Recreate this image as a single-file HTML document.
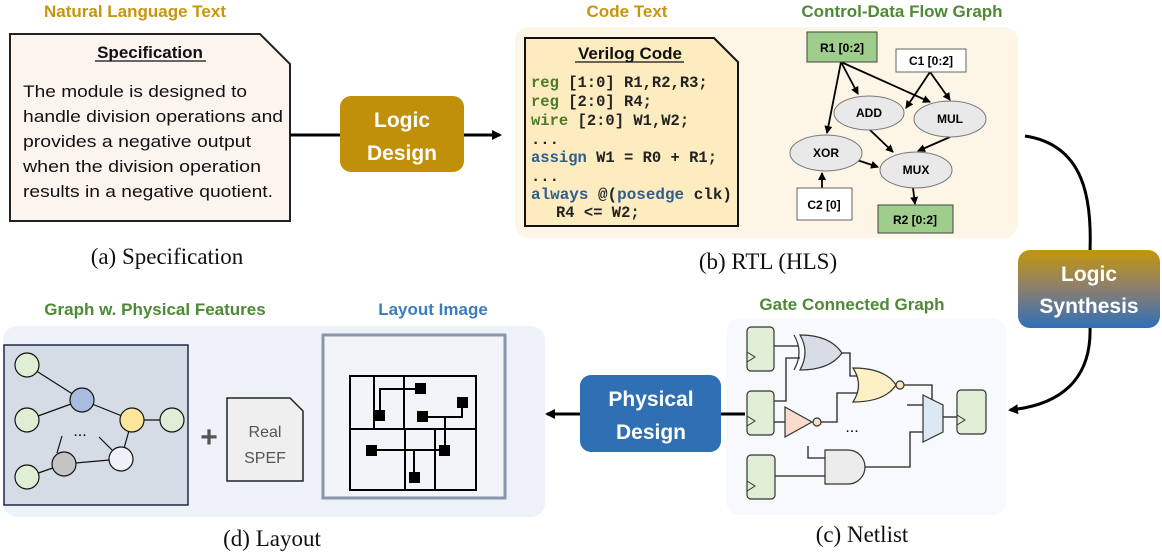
<!DOCTYPE html>
<html><head><meta charset="utf-8"><style>
html,body{margin:0;padding:0;background:#fff}
svg{display:block}
.h{font-family:"Liberation Sans",sans-serif;font-weight:bold;font-size:17px;text-anchor:middle}
.cap{font-family:"Liberation Serif",serif;font-size:23px;text-anchor:middle;fill:#111}
.mono{font-family:"Liberation Mono",monospace;font-weight:bold;font-size:15.5px}
.nd{font-family:"Liberation Sans",sans-serif;font-weight:bold;font-size:12px;text-anchor:middle}
.btn{font-family:"Liberation Sans",sans-serif;font-weight:bold;font-size:21px;fill:#fff;text-anchor:middle}
</style></head><body>
<svg width="1162" height="556" viewBox="0 0 1162 556" xmlns="http://www.w3.org/2000/svg">
<defs>
<marker id="ar" markerWidth="10" markerHeight="10" refX="8" refY="5" orient="auto" markerUnits="userSpaceOnUse"><path d="M0,0 L10,5 L0,10 z" fill="#000"/></marker>
<marker id="as" markerWidth="8" markerHeight="8" refX="7" refY="4" orient="auto" markerUnits="userSpaceOnUse"><path d="M0,0 L8,4 L0,8 z" fill="#000"/></marker>
<linearGradient id="gs" x1="0" y1="0" x2="0" y2="1"><stop offset="0" stop-color="#c4960c"/><stop offset="0.5" stop-color="#8a7f70"/><stop offset="1" stop-color="#2f6fb8"/></linearGradient>
</defs>

<!-- headings -->
<text class="h" x="135" y="17" fill="#c8960c">Natural Language Text</text>
<text class="h" x="627" y="17" fill="#c8960c">Code Text</text>
<text class="h" x="902" y="17" fill="#4e8a35">Control-Data Flow Graph</text>
<text class="h" x="852" y="310" fill="#4e8a35">Gate Connected Graph</text>
<text class="h" x="155" y="315" fill="#4e8a35">Graph w. Physical Features</text>
<text class="h" x="433" y="315" fill="#3a7cc0">Layout Image</text>

<!-- spec box -->
<path d="M10,34 H260 L290,64 V221 H10 Z" fill="#fcf4ee" stroke="#222" stroke-width="2"/>
<text x="150" y="58" class="h" fill="#111" font-size="17">Specification</text>
<line x1="95" y1="61" x2="206" y2="61" stroke="#111" stroke-width="1.2"/>
<g font-family="Liberation Sans,sans-serif" font-size="17" fill="#111">
<text x="23" y="97" textLength="224" lengthAdjust="spacingAndGlyphs">The module is designed to</text>
<text x="23" y="122" textLength="260" lengthAdjust="spacingAndGlyphs">handle division operations and</text>
<text x="23" y="147" textLength="228" lengthAdjust="spacingAndGlyphs">provides a negative output</text>
<text x="23" y="172" textLength="238" lengthAdjust="spacingAndGlyphs">when the division operation</text>
<text x="23" y="197" textLength="250" lengthAdjust="spacingAndGlyphs">results in a negative quotient.</text>
</g>
<text class="cap" x="167" y="264">(a) Specification</text>

<!-- Logic design -->
<line x1="290" y1="135" x2="500" y2="135" stroke="#000" stroke-width="3" marker-end="url(#ar)"/>
<rect x="340" y="96" width="124" height="76" rx="11" fill="#c0900a"/>
<text class="btn" x="402" y="127">Logic</text>
<text class="btn" x="402" y="160">Design</text>

<!-- RTL panel -->
<rect x="515" y="27" width="503" height="211" rx="14" fill="#fdf6e6"/>
<path d="M525,38 H714 L738,62 V226 H525 Z" fill="#fdecc0" stroke="#111" stroke-width="2"/>
<text x="630" y="59" class="h" fill="#111">Verilog Code</text>
<line x1="575" y1="62" x2="684" y2="62" stroke="#111" stroke-width="1.2"/>
<g class="mono">
<text x="531" y="87"><tspan fill="#4e7a2a">reg</tspan><tspan fill="#222"> [1:0] R1,R2,R3;</tspan></text>
<text x="531" y="106"><tspan fill="#4e7a2a">reg</tspan><tspan fill="#222"> [2:0] R4;</tspan></text>
<text x="531" y="125"><tspan fill="#4e7a2a">wire</tspan><tspan fill="#222"> [2:0] W1,W2;</tspan></text>
<text x="531" y="144" fill="#222">...</text>
<text x="531" y="162"><tspan fill="#2e5d8e">assign</tspan><tspan fill="#222"> W1 = R0 + R1;</tspan></text>
<text x="531" y="181" fill="#222">...</text>
<text x="531" y="199" textLength="201" lengthAdjust="spacingAndGlyphs"><tspan fill="#2e5d8e">always</tspan><tspan fill="#222"> @(</tspan><tspan fill="#2e5d8e">posedge</tspan><tspan fill="#222"> clk)</tspan></text>
<text x="556" y="217" fill="#222">R4 &lt;= W2;</text>
</g>
<!-- CDFG -->
<g stroke="#000" stroke-width="1.8" fill="none">
<line x1="841" y1="62" x2="827" y2="133" marker-end="url(#as)"/>
<line x1="841" y1="62" x2="858" y2="94" marker-end="url(#as)"/>
<line x1="841" y1="62" x2="930" y2="102" marker-end="url(#as)"/>
<line x1="930" y1="72" x2="906" y2="108" marker-end="url(#as)"/>
<line x1="930" y1="72" x2="950" y2="100" marker-end="url(#as)"/>
<line x1="870" y1="130" x2="893" y2="152" marker-end="url(#as)"/>
<line x1="950" y1="137" x2="918" y2="151" marker-end="url(#as)"/>
<line x1="857" y1="160" x2="878" y2="167" marker-end="url(#as)"/>
<line x1="822" y1="188" x2="822" y2="173" marker-end="url(#as)"/>
<line x1="913" y1="188" x2="915" y2="204" marker-end="url(#as)"/>
</g>
<rect x="807" y="32" width="70" height="30" fill="#9fce8c" stroke="#444"/>
<text class="nd" x="842" y="52">R1 [0:2]</text>
<rect x="896" y="49" width="70" height="23" fill="#fff" stroke="#666"/>
<text class="nd" x="931" y="65">C1 [0:2]</text>
<g fill="#e9e9e9" stroke="#777">
<ellipse cx="869" cy="113" rx="35" ry="17"/>
<ellipse cx="950" cy="119" rx="36" ry="18"/>
<ellipse cx="826" cy="153" rx="36" ry="18"/>
<ellipse cx="916" cy="170" rx="36" ry="18"/>
</g>
<text class="nd" x="869" y="117">ADD</text>
<text class="nd" x="950" y="123">MUL</text>
<text class="nd" x="826" y="157">XOR</text>
<text class="nd" x="916" y="174">MUX</text>
<rect x="797" y="188" width="55" height="32" fill="#fff" stroke="#666"/>
<text class="nd" x="824" y="209">C2 [0]</text>
<rect x="878" y="205" width="75" height="28" fill="#9fce8c" stroke="#444"/>
<text class="nd" x="915" y="224">R2 [0:2]</text>
<text class="cap" x="768" y="269">(b) RTL (HLS)</text>

<!-- Logic synthesis -->
<path d="M1025,136 C1085,145 1092,200 1090,252" stroke="#000" stroke-width="3" fill="none"/>
<path d="M1090,326 C1092,380 1060,405 1010,410" stroke="#000" stroke-width="3" fill="none" marker-end="url(#ar)"/>
<rect x="1018" y="250" width="142" height="78" rx="12" fill="url(#gs)"/>
<text class="btn" x="1089" y="281">Logic</text>
<text class="btn" x="1089" y="313">Synthesis</text>

<!-- Netlist panel -->
<rect x="726" y="318" width="280" height="197" rx="14" fill="#f7f9fc"/>
<g stroke="#222" stroke-width="1.3" fill="none">
<path d="M774,346 H798"/><path d="M774,401 H786 V358 H800"/>
<path d="M774,422 H785"/><path d="M775,476 H825"/>
<path d="M841,353 H850 V376 H857"/><path d="M821,422 H837 V393 H857"/>
<path d="M904,385 H932 V400"/><path d="M907,405 H923"/>
<path d="M865,467 H910 V432 H923"/><path d="M808,446 V458 H825"/>
<path d="M943,417 H958"/>
</g>
<g stroke="#333" stroke-width="1.2">
<rect x="747" y="327" width="27" height="44" rx="4" fill="#e1eed6"/>
<rect x="747" y="391" width="27" height="44" rx="4" fill="#e1eed6"/>
<rect x="747" y="455" width="28" height="44" rx="4" fill="#e1eed6"/>
<rect x="957" y="390" width="29" height="44" rx="4" fill="#e1eed6"/>
<path d="M800,335 Q830,335 842,353 Q830,370 800,370 Q810,352 800,335 Z" fill="#d8dce6"/>
<path d="M794,335 Q804,352 794,370" fill="none"/>
<path d="M853,368 Q885,368 896,385 Q885,402 853,402 Q864,385 853,368 Z" fill="#fdf0c4"/>
<circle cx="900" cy="385" r="4" fill="#fde7c0"/>
<path d="M785,407 L812,422 L785,437 Z" fill="#f9dccc"/>
<circle cx="817" cy="422" r="4" fill="#f9dccc"/>
<path d="M923,395 L943,405 L943,432 L923,442 Z" fill="#dde8f5"/>
<path d="M825,450 H848 A17,17 0 0 1 848,484 H825 Z" fill="#ececec"/>
</g>
<path d="M747,352 l8,5 l-8,5 M747,416 l8,5 l-8,5 M747,481 l8,5 l-8,5 M957,415 l8,5 l-8,5" fill="none" stroke="#333"/>
<text x="852" y="432" font-family="Liberation Sans,sans-serif" font-size="16" text-anchor="middle">...</text>
<text class="cap" x="862" y="542">(c) Netlist</text>

<!-- Physical design -->
<line x1="745" y1="414" x2="547" y2="414" stroke="#000" stroke-width="3" marker-end="url(#ar)"/>
<rect x="580" y="375" width="141" height="77" rx="11" fill="#2f6fb4"/>
<text class="btn" x="651" y="406">Physical</text>
<text class="btn" x="651" y="439">Design</text>

<!-- Layout panel -->
<rect x="3" y="326" width="542" height="191" rx="14" fill="#eef3f9"/>
<rect x="4" y="345" width="184" height="160" fill="#d5dce6" stroke="#1e2a4a" stroke-width="1.5"/>
<g stroke="#111" stroke-width="1.2">
<line x1="27" y1="365" x2="82" y2="400"/><line x1="27" y1="420" x2="82" y2="400"/>
<line x1="82" y1="400" x2="132" y2="420"/><line x1="132" y1="420" x2="172" y2="420"/>
<line x1="132" y1="420" x2="121" y2="459"/><line x1="64" y1="464" x2="121" y2="459"/>
<line x1="27" y1="477" x2="64" y2="464"/><line x1="62" y1="436" x2="57" y2="453"/>
<line x1="99" y1="437" x2="112" y2="450"/>
<circle cx="27" cy="365" r="12" fill="#e1eed6"/>
<circle cx="27" cy="420" r="12" fill="#e1eed6"/>
<circle cx="27" cy="477" r="12" fill="#e1eed6"/>
<circle cx="172" cy="420" r="12" fill="#e1eed6"/>
<circle cx="82" cy="400" r="12" fill="#a9bde0"/>
<circle cx="132" cy="420" r="12" fill="#fde59a"/>
<circle cx="64" cy="464" r="12" fill="#c4c4c4"/>
<circle cx="121" cy="459" r="12" fill="#eef2f8"/>
</g>
<text x="80" y="436" font-family="Liberation Sans,sans-serif" font-size="16" text-anchor="middle">...</text>
<text x="209" y="447" font-family="Liberation Sans,sans-serif" font-size="30" font-weight="bold" fill="#555" text-anchor="middle">+</text>
<path d="M227,398 H290 L303,411 V481 H227 Z" fill="#efefef" stroke="#222" stroke-width="1.5"/>
<g font-family="Liberation Sans,sans-serif" font-size="16" fill="#555" text-anchor="middle">
<text x="265" y="437">Real</text><text x="265" y="463">SPEF</text></g>
<rect x="323" y="335" width="182" height="163" fill="#f1f5fa" stroke="#8a96ab" stroke-width="3"/>
<g stroke="#000" stroke-width="2" fill="none">
<rect x="350" y="376" width="126" height="114"/>
<path d="M350,429 H476 M374,376 V429 M404,376 V429 M405,429 V490 M435,429 V490"/>
<path d="M380,417 V389 H421 M426,417 H462 V402 M445,417 V451 M373,450 H444 M414,450 V477"/>
</g>
<g fill="#000">
<rect x="374" y="410" width="11" height="11"/><rect x="415" y="383" width="11" height="11"/>
<rect x="457" y="397" width="11" height="11"/><rect x="417" y="411" width="11" height="11"/>
<rect x="366" y="445" width="11" height="11"/><rect x="439" y="445" width="11" height="11"/>
<rect x="409" y="472" width="11" height="11"/>
</g>
<text class="cap" x="272" y="546">(d) Layout</text>
</svg>
</body></html>
